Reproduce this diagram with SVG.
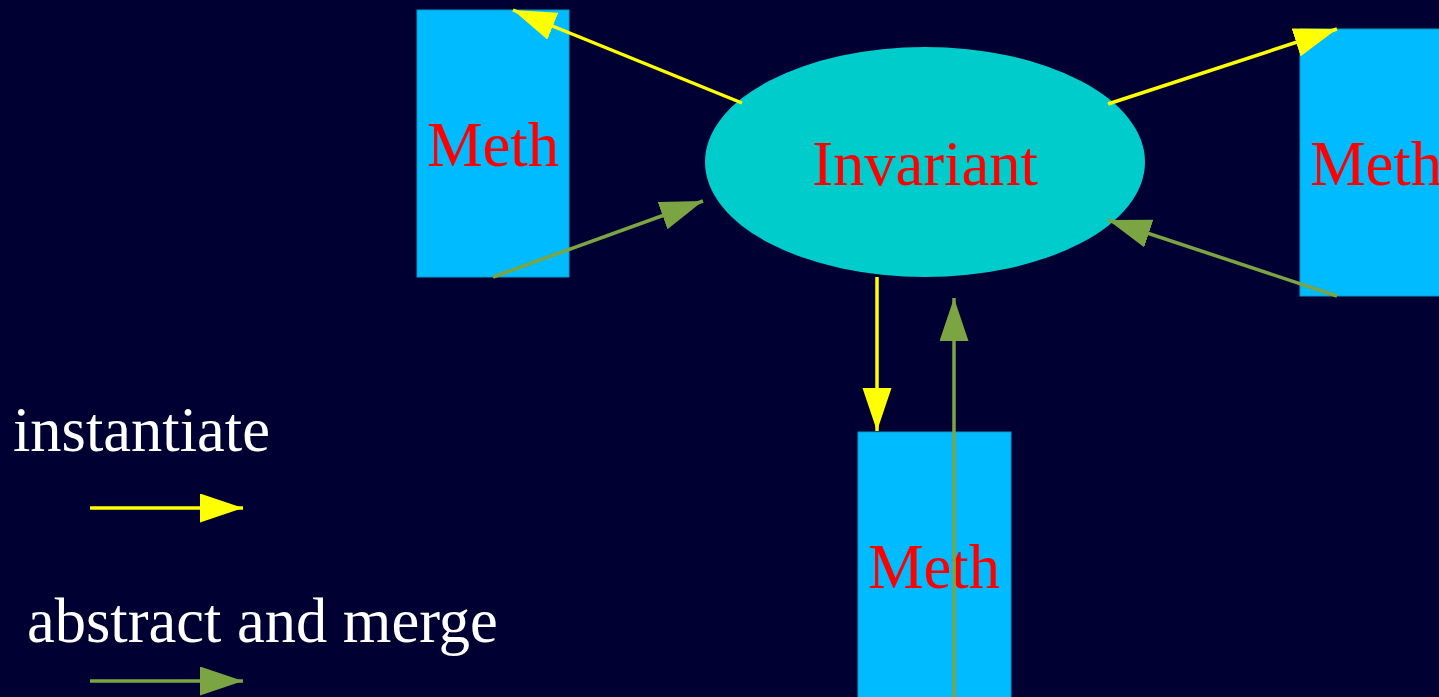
<svg xmlns="http://www.w3.org/2000/svg" width="1439" height="697" viewBox="0 0 1439 697">
<style>
.meth{fill:#00BBFF;stroke:#0A9AC8;stroke-width:1}
.lbl{font-family:"Liberation Serif","Times New Roman",serif;font-size:62.5px;fill:#FF0000;text-anchor:middle}
.leg{font-family:"Liberation Serif","Times New Roman",serif;font-size:62.5px;fill:#FFFFFF}
.inst{stroke:#FFFF00;stroke-width:3.5;fill:none;marker-end:url(#hy)}
.abs{stroke:#7BA443;stroke-width:3.5;fill:none;marker-end:url(#hg)}
</style>
<defs>
<marker id="hy" markerUnits="userSpaceOnUse" markerWidth="44" markerHeight="30" refX="43" refY="14.5" orient="auto"><path d="M0,0 L43,14.5 L0,29 z" fill="#FFFF00"/></marker>
<marker id="hg" markerUnits="userSpaceOnUse" markerWidth="44" markerHeight="30" refX="43" refY="14.5" orient="auto"><path d="M0,0 L43,14.5 L0,29 z" fill="#7BA443"/></marker>
</defs>
<rect x="0" y="0" width="1439" height="697" fill="#000033"/>
<g id="meth-left"><rect class="meth" x="417" y="10" width="152" height="267"/><text class="lbl" x="493" y="166">Meth</text></g>
<g id="meth-right"><rect class="meth" x="1300" y="29" width="152" height="267"/><text class="lbl" x="1376" y="185">Meth</text></g>
<g id="meth-bottom"><rect class="meth" x="858" y="432" width="153" height="280"/><text class="lbl" x="934" y="588">Meth</text></g>
<g id="invariant"><ellipse cx="925" cy="162" rx="220" ry="115" fill="#00CCCC"/><text class="lbl" x="925" y="185">Invariant</text></g>
<g id="connectors">
<line class="inst" x1="742" y1="103" x2="513" y2="10"/>
<line class="abs" x1="493" y1="277" x2="703" y2="201"/>
<line class="inst" x1="1108" y1="104" x2="1337" y2="29"/>
<line class="abs" x1="1337" y1="296" x2="1108" y2="220"/>
<line class="inst" x1="877" y1="277" x2="877" y2="431"/>
<line class="abs" x1="954" y1="697" x2="954" y2="298"/>
</g>
<g id="legend">
<text class="leg" x="13" y="451">instantiate</text>
<line class="inst" x1="90" y1="508" x2="243" y2="508"/>
<text class="leg" x="27" y="642">abstract and merge</text>
<line class="abs" x1="90" y1="681" x2="243" y2="681"/>
</g>
</svg>
